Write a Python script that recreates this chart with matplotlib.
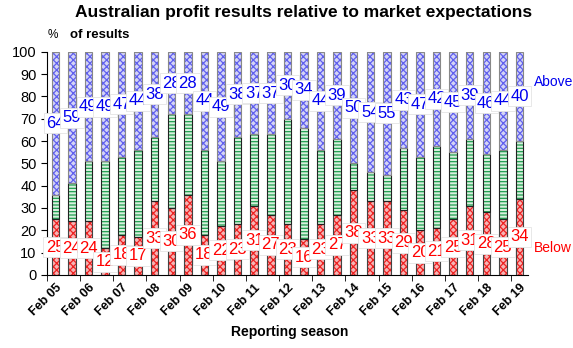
import numpy as np
import matplotlib
matplotlib.use('Agg')
import matplotlib.pyplot as plt

plt.rcParams['font.family'] = ['Liberation Sans', 'DejaVu Sans']
plt.rcParams['hatch.linewidth'] = 0.9

# data (half-yearly reporting seasons, Feb 05 - Feb 19)
seasons = ['Feb 05', 'Aug 05', 'Feb 06', 'Aug 06', 'Feb 07', 'Aug 07', 'Feb 08', 'Aug 08',
           'Feb 09', 'Aug 09', 'Feb 10', 'Aug 10', 'Feb 11', 'Aug 11', 'Feb 12', 'Aug 12',
           'Feb 13', 'Aug 13', 'Feb 14', 'Aug 14', 'Feb 15', 'Aug 15', 'Feb 16', 'Aug 16',
           'Feb 17', 'Aug 17', 'Feb 18', 'Aug 18', 'Feb 19']
below = [25, 24, 24, 12, 18, 17, 33, 30, 36, 18, 22, 23, 31, 27, 23, 16,
         23, 27, 38, 33, 33, 29, 20, 21, 25, 31, 28, 25, 34]
above = [64, 59, 49, 49, 47, 44, 38, 28, 28, 44, 49, 38, 37, 37, 30, 34,
         44, 39, 50, 54, 55, 43, 47, 42, 45, 39, 46, 44, 40]

below = np.array(below)
above = np.array(above)
inline = 100 - below - above
x = np.arange(len(seasons))

fig = plt.figure(figsize=(5.73, 3.48), dpi=100)
ax = fig.add_axes([0.082, 0.21, 0.839, 0.641])

w = 0.45
# hatched segments
ax.bar(x, below, w, color='#f6b4b4', edgecolor='#ee2222', hatch='xxxxx', linewidth=0, zorder=2)
ax.bar(x, inline, w, bottom=below, color='#d8f0de', edgecolor='#1e9e4e', hatch='-----', linewidth=0, zorder=2)
ax.bar(x, above, w, bottom=below + inline, color='#d4d4f6', edgecolor='#6060ee', hatch='xxxxx', linewidth=0, zorder=2)
# outlines
ax.bar(x, below, w, fill=False, edgecolor='#444444', linewidth=0.8, zorder=3)
ax.bar(x, inline, w, bottom=below, fill=False, edgecolor='#222222', linewidth=0.8, zorder=3)
ax.bar(x, above, w, bottom=below + inline, fill=False, edgecolor='#888888', linewidth=0.8, zorder=3)

# value labels in white boxes, centred in segments
box = dict(boxstyle='square,pad=0.15', fc='white', ec='#e4e4e4', lw=0.6)
for i in range(len(x)):
    ax.text(x[i], below[i] / 2, str(below[i]), ha='center', va='center', color='#ff0000',
            fontsize=12, bbox=box, zorder=5)
for i in range(len(x)):
    ax.text(x[i], 100 - above[i] / 2, str(above[i]), ha='center', va='center', color='#0000ee',
            fontsize=12, bbox=box, zorder=5)

ax.text(28.9, 86.5, 'Above', color='#0000ee', fontsize=10, ha='left', va='center', clip_on=False)
ax.text(28.9, 12, 'Below', color='#ff0000', fontsize=10, ha='left', va='center', clip_on=False)

ax.set_xlim(-0.5, 28.5)
ax.set_ylim(0, 100)
ax.set_yticks(np.arange(0, 101, 10))
ax.tick_params(axis='y', direction='out', length=4, labelsize=10.5)

feb = x[::2]
ax.set_xticks(feb)
ax.set_xticklabels(seasons[::2], rotation=45, ha='right', rotation_mode='anchor',
                   fontsize=9, fontweight='bold')
ax.set_xticks(np.arange(-0.5, 28.6, 2), minor=True)
ax.tick_params(axis='x', which='major', length=0, pad=5)
ax.tick_params(axis='x', which='minor', length=4, direction='out')

ax.spines['top'].set_visible(False)
ax.spines['right'].set_visible(False)

fig.text(0.53, 0.965, 'Australian profit results relative to market expectations',
         ha='center', va='center', fontsize=12.5, fontweight='bold')
fig.text(0.083, 0.9, '%', ha='left', va='center', fontsize=8.5)
fig.text(0.122, 0.9, 'of results', ha='left', va='center', fontsize=9.5, fontweight='bold')
fig.text(0.505, 0.045, 'Reporting season', ha='center', va='center', fontsize=10, fontweight='bold')

fig.savefig('out.png', dpi=100)
